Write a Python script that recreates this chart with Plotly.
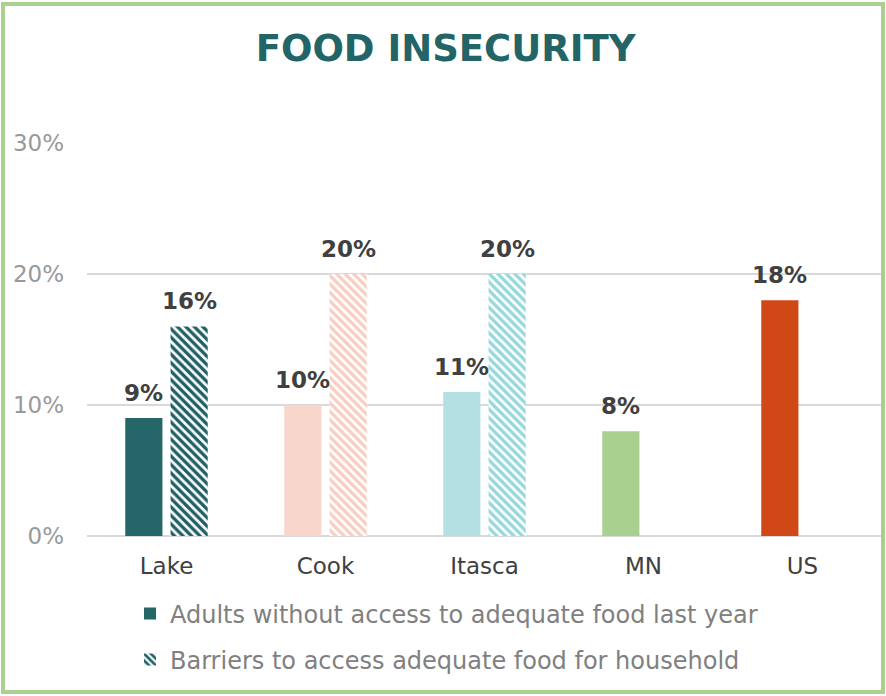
import plotly.graph_objects as go

# Data
categories = ['Lake', 'Cook', 'Itasca', 'MN', 'US']
adults_no_access = [0.09, 0.10, 0.11, 0.08, 0.18]
household_barriers = [0.16, 0.20, 0.20, None, None]

solid_colors = ['#256669', '#F8D6CB', '#B4E0E4', '#A9D08E', '#D04816']
hatch_colors = ['#1F6064', '#F8CEC1', '#95D8DC', '#A9D08E', '#D04816']

series_names = ['Adults without access to adequate food last year',
                'Barriers to access adequate food for household']

FONT = 'Verdana, DejaVu Sans, sans-serif'
BAR_GAP, GROUP_GAP = 0.43, 0.18

fig = go.Figure()
fig.add_trace(go.Bar(
    x=categories, y=adults_no_access, name=series_names[0],
    marker=dict(color=solid_colors, line=dict(width=0)),
    legend='legend', hoverinfo='x+y'))
fig.add_trace(go.Bar(
    x=categories, y=household_barriers, name=series_names[1],
    marker=dict(color='white', line=dict(width=0),
                pattern=dict(shape='\\', fgcolor=hatch_colors, bgcolor='white',
                             fgopacity=1, size=6, solidity=0.55,
                             fillmode='overlay')),
    legend='legend2', hoverinfo='x+y'))

# Layout: plot area 87..882 x, 143..536 y in a 886x696 page
L, R, T, B = 87, 4, 143, 160
W, H = 886, 696
pw, ph = W - L - R, H - T - B

def px_x(p):
    return (p - L) / pw

def px_y(p):
    return (H - B - p) / ph

# value labels, floated a bit above each bar like the Excel original
slot = pw / len(categories) * (1 - BAR_GAP) / 2
annotations = []
for series, side in ((adults_no_access, -1), (household_barriers, 1)):
    for cat, val in zip(categories, series):
        if val is None:
            continue
        annotations.append(dict(
            x=cat, y=val, xref='x', yref='y', text=f'{val:.0%}',
            showarrow=False, xshift=side * slot / 2, yshift=25,
            yanchor='middle',
            font=dict(family=FONT, size=23, color='#404040', weight='bold')))

legend_font = dict(family=FONT, size=24, color='#808080')

fig.update_layout(
    width=W, height=H,
    margin=dict(l=L, r=R, t=T, b=B),
    paper_bgcolor='white', plot_bgcolor='white',
    font=dict(family=FONT),
    title=dict(text='<b>FOOD INSECURITY</b>', x=0.503, xanchor='center',
               y=1 - 48 / H, yanchor='middle',
               font=dict(family=FONT, size=37, color='#236467')),
    barmode='group', bargap=BAR_GAP, bargroupgap=GROUP_GAP,
    showlegend=True,
    legend=dict(x=px_x(130), xanchor='left', y=1 - 614 / H, yref='container',
                yanchor='middle', font=legend_font, bgcolor='rgba(0,0,0,0)'),
    legend2=dict(x=px_x(130), xanchor='left', y=1 - 660 / H, yref='container',
                 yanchor='middle', font=legend_font, bgcolor='rgba(0,0,0,0)'),
    xaxis=dict(showgrid=False, showline=False, ticks='',
               tickfont=dict(family=FONT, size=23, color='#404040'),
               ticklabelstandoff=14),
    yaxis=dict(range=[0, 0.3], dtick=0.1, tickformat='.0%',
               showgrid=True, gridcolor='#D9D9D9', gridwidth=2,
               zeroline=True, zerolinecolor='#D9D9D9', zerolinewidth=2,
               showline=False, ticks='',
               tickfont=dict(family=FONT, size=23, color='#999999'),
               ticklabelstandoff=22),
    annotations=annotations,
    shapes=[dict(type='rect', xref='paper', yref='paper',
                 x0=px_x(3), x1=px_x(883), y0=px_y(692), y1=px_y(4),
                 line=dict(color='#A9D08E', width=4), fillcolor='rgba(0,0,0,0)',
                 layer='above')],
)

# drop the browser's default 8px body margin so the figure sits at the page corner
fig.write_html('out.html', config={'displayModeBar': False},
               post_script="document.body.style.margin='0';")
